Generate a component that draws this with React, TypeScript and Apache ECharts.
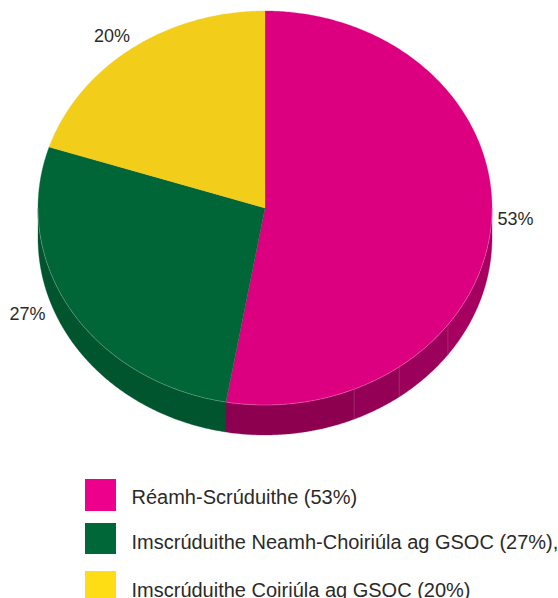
import React, { useEffect, useRef } from "react";
import * as echarts from "echarts";

const sliceValues = [52.75, 27.25, 20];
const percentLabels = ["53%", "27%", "20%"];
const legendLabels = [
  "Réamh-Scrúduithe (53%)",
  "Imscrúduithe Neamh-Choiriúla ag GSOC (27%),",
  "Imscrúduithe Coiriúla ag GSOC (20%)",
];
const topColors = ["#dc0081", "#006537", "#f2cd1a"];
const swatchColors = ["#ec008c", "#006838", "#ffdd15"];
const greenSide = "#00552e";

// Rim facets of the first slice, in degrees clockwise from twelve o'clock
const facetStops = [90, 126.3, 143.8, 156.9, 189.9];
const facetColors = ["#a5005f", "#9b005a", "#930055", "#8d0050"];

const CX = 265;
const CY = 208;
const RX = 227;
const RY = 197;
const DEPTH = 30;
const labelPos = [
  [515.5, 219],
  [27.5, 314],
  [112, 36],
];
const swatchRows = [
  { y: 479, h: 32, textY: 497 },
  { y: 523, h: 31, textY: 542.4 },
  { y: 571, h: 31, textY: 590.4 },
];

const pt = (deg: number, dy = 0) => {
  const r = (deg * Math.PI) / 180;
  return [CX + RX * Math.sin(r), CY - RY * Math.cos(r) + dy];
};
const arc = (a: number, b: number, dy = 0) => {
  const out: number[][] = [];
  const n = Math.max(2, Math.ceil(Math.abs(b - a) * 2));
  for (let i = 0; i <= n; i++) out.push(pt(a + ((b - a) * i) / n, dy));
  return out;
};
const sideFace = (a: number, b: number, fill: string) => ({
  type: "polygon",
  z2: 1,
  shape: { points: [...arc(a, b), ...arc(b, a, DEPTH)] },
  style: { fill, stroke: fill, lineWidth: 0.3 },
});

const total = sliceValues.reduce((s, v) => s + v, 0);

const renderItem = (params: any, api: any) => {
  const i = params.dataIndex;
  const value = api.value(0);
  let before = 0;
  for (let k = 0; k < i; k++) before += sliceValues[k];
  const a0 = (before / total) * 360;
  const a1 = ((before + value) / total) * 360;
  const children: any[] = [];

  if (i === 0) {
    facetColors.forEach((c, k) => children.push(sideFace(facetStops[k], facetStops[k + 1], c)));
    facetStops.slice(1, 4).forEach((d) => {
      const p = pt(d);
      const q = pt(d, DEPTH);
      children.push({
        type: "line",
        z2: 2,
        shape: { x1: p[0], y1: p[1], x2: q[0], y2: q[1] },
        style: { stroke: "rgba(255,255,255,0.22)", lineWidth: 0.6 },
      });
    });
  } else if (i === 1) {
    children.push(sideFace(a0, 270, greenSide));
  }

  children.push({
    type: "polygon",
    z2: 3,
    shape: { points: [[CX, CY], ...arc(a0, a1)] },
    style: { fill: topColors[i], stroke: topColors[i], lineWidth: 0.3 },
  });

  const rimStart = Math.max(a0, 90);
  const rimEnd = Math.min(a1, 270);
  if (rimEnd > rimStart) {
    children.push({
      type: "polyline",
      z2: 4,
      shape: { points: arc(rimStart, rimEnd) },
      style: { fill: "none", stroke: "rgba(255,255,255,0.4)", lineWidth: 0.6 },
    });
  }

  children.push({
    type: "text",
    z2: 5,
    x: labelPos[i][0],
    y: labelPos[i][1],
    style: {
      text: percentLabels[i],
      fill: "#2b2a29",
      font: '18px "Liberation Sans"',
      textAlign: "center",
      textVerticalAlign: "middle",
    },
  });
  return { type: "group", children };
};

export default function App() {
  const ref = useRef<HTMLDivElement>(null);
  useEffect(() => {
    const chart = echarts.init(ref.current!, undefined, { renderer: "svg" });
    const legend: any[] = [];
    legendLabels.forEach((label, i) => {
      legend.push({
        type: "rect",
        x: 85,
        y: swatchRows[i].y,
        shape: { width: 31, height: swatchRows[i].h },
        style: { fill: swatchColors[i] },
      });
      legend.push({
        type: "text",
        x: 131.5,
        y: swatchRows[i].textY,
        style: {
          text: label,
          fill: "#2b2a29",
          font: '20px "Liberation Sans"',
          textAlign: "left",
          textVerticalAlign: "middle",
        },
      });
    });
    chart.setOption({
      animation: false,
      backgroundColor: "#ffffff",
      graphic: legend,
      series: [
        {
          type: "custom",
          coordinateSystem: "none",
          silent: true,
          renderItem,
          data: sliceValues.map((v) => [v]),
        },
      ],
    });
    return () => chart.dispose();
  }, []);
  return (
    <div
      ref={ref}
      style={{ position: "fixed", left: 0, top: 0, width: 558, height: 598 }}
    />
  );
}
